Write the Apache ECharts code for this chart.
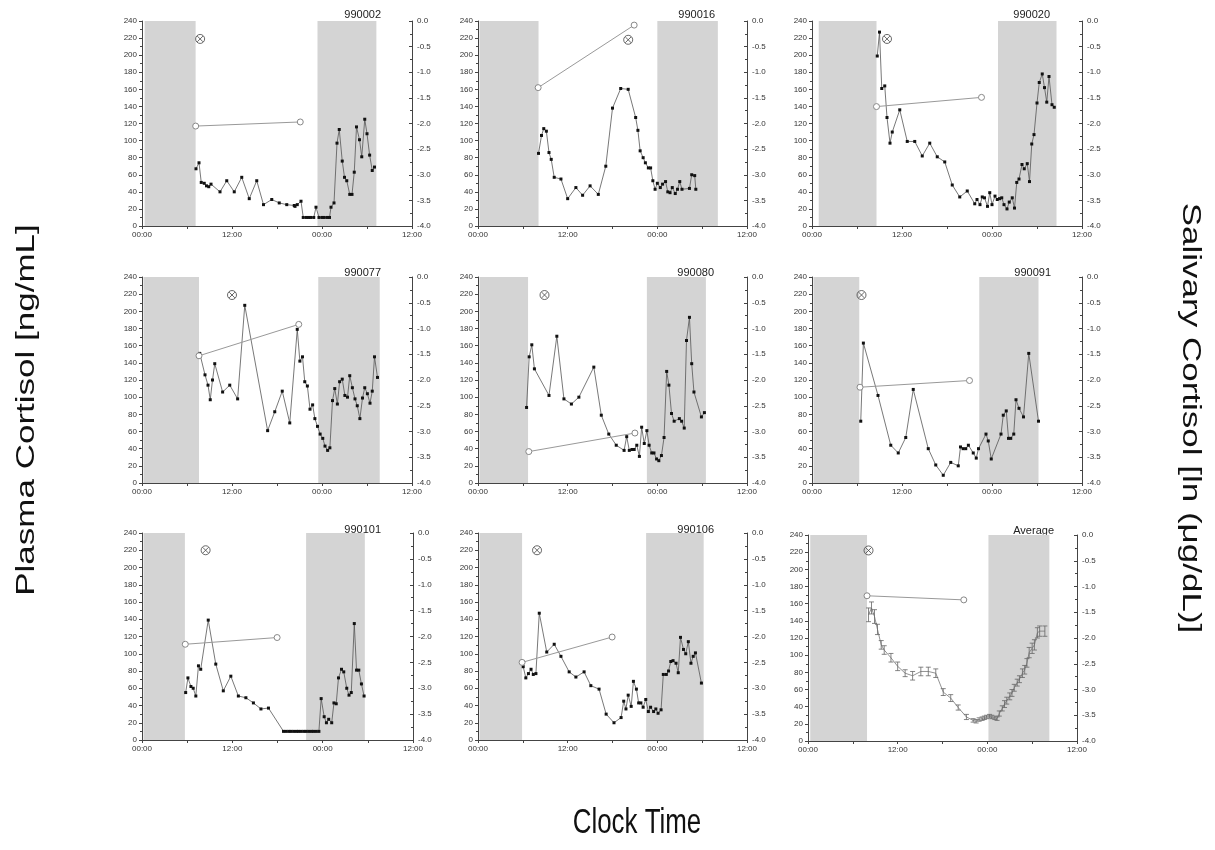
<!DOCTYPE html>
<html><head><meta charset="utf-8">
<script src="https://cdn.jsdelivr.net/npm/echarts@6/dist/echarts.min.js"></script>
<style>html,body{margin:0;padding:0;background:#fff}#c{width:1215px;height:850px}</style>
</head><body><div id="c"></div>
<script>
// ---------- DATA (time = hours since 00:00 of day 1) ----------
const panelIds = ['990002','990016','990020','990077','990080','990091','990101','990106','Average'];
const xTickLabels = ['00:00','12:00','00:00','12:00'];

// plasma cortisol [hour, ng/mL]
const plasma_990002 = [[7.2,67],[7.6,74],[7.9,51],[8.3,50],[8.6,47],[8.9,46],[9.2,49],[10.4,40],[11.3,53],[12.3,40],[13.3,57],[14.3,32],[15.3,53],[16.2,25],[17.3,31],[18.3,27],[19.3,25],[20.3,24],[20.4,23],[20.7,25],[21.2,29],[21.5,10],[21.9,10],[22.2,10],[22.5,10],[22.9,10],[23.2,22],[23.6,10],[24.0,10],[24.3,10],[24.7,10],[25.0,10],[25.2,22],[25.6,27],[26.0,97],[26.3,113],[26.7,76],[27.0,57],[27.3,53],[27.7,37],[28.0,37],[28.3,63],[28.6,116],[29.0,101],[29.3,81],[29.7,125],[30.0,108],[30.35,83],[30.7,65],[31.0,69]];
const plasma_990016 = [[8.1,85],[8.5,106],[8.8,114],[9.15,111],[9.5,86],[9.8,78],[10.2,57],[11.1,55],[12.0,32],[13.1,45],[14.0,36],[15.0,47],[16.1,37],[17.1,70],[18.0,138],[19.1,161],[20.1,160],[21.1,127],[21.4,112],[21.7,88],[22.1,80],[22.4,74],[22.8,68],[23.1,68],[23.4,53],[23.7,43],[24.0,50],[24.4,45],[24.7,49],[25.1,52],[25.4,40],[25.7,39],[26.0,45],[26.4,38],[26.7,43],[27.0,52],[27.3,43],[28.3,44],[28.6,60],[29.0,59],[29.15,43]];
const plasma_990020 = [[8.7,199],[9.0,227],[9.3,161],[9.7,164],[10.0,127],[10.4,97],[10.7,110],[11.7,136],[12.7,99],[13.7,99],[14.7,82],[15.7,97],[16.7,81],[17.7,75],[18.7,48],[19.7,34],[20.7,41],[21.7,26],[22.0,31],[22.4,25],[22.7,34],[23.0,33],[23.4,23],[23.7,39],[24.0,25],[24.4,35],[24.7,31],[25.0,32],[25.3,33],[25.6,25],[26.0,20],[26.3,28],[26.7,33],[27.0,21],[27.3,51],[27.6,55],[28.0,72],[28.3,67],[28.7,73],[29.0,52],[29.3,96],[29.6,107],[30.0,144],[30.3,168],[30.7,178],[31.0,162],[31.3,145],[31.6,175],[32.0,142],[32.3,139]];
const plasma_990077 = [[7.7,151],[8.4,126],[8.8,114],[9.1,97],[9.4,120],[9.7,139],[10.75,106],[11.7,114],[12.75,98],[13.7,207],[16.75,61],[17.7,83],[18.7,107],[19.7,70],[20.7,179],[21.05,142],[21.4,147],[21.7,118],[22.05,113],[22.4,86],[22.75,91],[23.05,75],[23.4,66],[23.75,57],[24.1,52],[24.4,43],[24.75,38],[25.05,41],[25.4,96],[25.7,110],[26.05,92],[26.35,118],[26.7,121],[27.05,102],[27.4,100],[27.7,125],[28.05,111],[28.4,98],[28.7,90],[29.05,75],[29.4,99],[29.7,111],[30.05,104],[30.4,93],[30.7,107],[31.0,147],[31.4,123]];
const plasma_990080 = [[6.5,88],[6.85,147],[7.2,161],[7.55,133],[9.5,102],[10.55,171],[11.5,98],[12.5,92],[13.5,100],[15.5,135],[16.5,79],[17.5,57],[18.5,44],[19.55,38],[19.9,54],[20.25,38],[20.6,39],[20.9,39],[21.25,44],[21.6,31],[21.9,65],[22.25,46],[22.6,61],[22.9,44],[23.25,35],[23.55,35],[23.9,28],[24.2,26],[24.55,32],[24.9,53],[25.25,130],[25.55,114],[25.9,81],[26.25,72],[26.95,75],[27.25,72],[27.6,64],[27.9,166],[28.3,193],[28.6,139],[28.9,106],[29.9,77],[30.3,82]];
const plasma_990091 = [[6.5,72],[6.85,163],[8.8,102],[10.5,44],[11.5,35],[12.5,53],[13.5,109],[15.5,40],[16.5,21],[17.5,9],[18.5,24],[19.5,20],[19.8,42],[20.15,40],[20.5,40],[20.85,44],[21.5,35],[21.9,29],[22.2,40],[23.2,57],[23.5,49],[23.9,28],[25.2,57],[25.5,79],[25.9,84],[26.2,52],[26.5,52],[26.9,57],[27.2,97],[27.6,87],[28.2,77],[28.9,151],[30.2,72]];
const plasma_990101 = [[5.8,55],[6.1,72],[6.5,62],[6.8,60],[7.15,51],[7.5,86],[7.8,82],[8.8,139],[9.8,88],[10.8,57],[11.8,74],[12.8,51],[13.8,49],[14.8,43],[15.8,36],[16.8,37],[18.8,10],[19.15,10],[19.5,10],[19.8,10],[20.15,10],[20.5,10],[20.8,10],[21.15,10],[21.5,10],[21.8,10],[22.15,10],[22.5,10],[22.8,10],[23.15,10],[23.5,10],[23.8,48],[24.2,27],[24.5,20],[24.8,24],[25.2,20],[25.5,43],[25.8,42],[26.1,72],[26.5,82],[26.8,79],[27.2,60],[27.5,52],[27.8,55],[28.2,135],[28.5,81],[28.8,81],[29.15,65],[29.5,51]];
const plasma_990106 = [[6.05,85],[6.4,72],[6.75,77],[7.1,82],[7.4,76],[7.75,77],[8.2,147],[9.2,102],[10.2,111],[11.1,97],[12.2,79],[13.1,73],[14.2,79],[15.1,63],[16.2,59],[17.15,30],[18.2,20],[19.15,26],[19.5,45],[19.8,36],[20.1,52],[20.5,39],[20.8,68],[21.2,59],[21.5,43],[21.8,43],[22.1,38],[22.45,47],[22.8,33],[23.1,38],[23.5,33],[23.8,36],[24.1,31],[24.5,35],[24.8,76],[25.2,76],[25.5,80],[25.8,91],[26.1,92],[26.5,89],[26.8,78],[27.1,119],[27.5,105],[27.8,100],[28.15,114],[28.5,89],[28.8,97],[29.1,101],[29.9,66]];
const plasma_Average = [[8.1,147],[8.5,155],[8.9,145],[9.3,130],[9.8,112],[10.2,106],[11.1,97],[12.0,87],[13.0,79],[14.0,76],[15.1,81],[16.1,81],[17.1,79],[18.1,57],[19.1,50],[20.1,39],[21.2,28],[22.1,24],[22.5,23],[22.9,25],[23.3,26],[23.6,27],[23.9,28],[24.3,29],[24.6,28],[25.0,27],[25.3,26],[25.6,32],[26.0,38],[26.3,43],[26.6,47],[27.0,52],[27.3,56],[27.6,62],[28.0,68],[28.3,72],[28.7,79],[29.0,83],[29.3,91],[29.6,103],[30.0,108],[30.3,112],[30.7,126],[31.0,128],[31.7,128]];
// standard error of the average curve (ng/mL), same order as plasma_Average
const err_Average = [8,7,8,6,5,5,5,5,4,5,5,5,5,4,4,3,3,2,2,2,2,2,2,2,2,2,2,3,3,4,4,4,4,4,4,4,5,5,5,6,6,6,6,6,6];

// salivary cortisol [hour, ln(µg/dL)]
const saliva_990002 = [[7.16,-2.05],[21.1,-1.97]];
const saliva_990016 = [[8.05,-1.30],[20.9,-0.08]];
const saliva_990020 = [[8.6,-1.67],[22.6,-1.49]];
const saliva_990077 = [[7.6,-1.53],[20.9,-0.92]];
const saliva_990080 = [[6.8,-3.39],[21.0,-3.03]];
const saliva_990091 = [[6.4,-2.14],[21.0,-2.01]];
const saliva_990101 = [[5.75,-2.15],[17.95,-2.02]];
const saliva_990106 = [[5.9,-2.5],[17.95,-2.01]];
const saliva_Average = [[7.9,-1.18],[20.85,-1.26]];

// ⊗ event marker [hour, ng/mL]
const event_990002 = [[7.75,219]];
const event_990016 = [[20.1,218]];
const event_990020 = [[10.0,219]];
const event_990077 = [[12.0,219]];
const event_990080 = [[8.9,219]];
const event_990091 = [[6.6,219]];
const event_990101 = [[8.45,220]];
const event_990106 = [[7.9,220]];
const event_Average = [[8.1,222]];

// dark (lights-off) periods [start hour, end hour]
const night_990002 = [[0.35,7.15],[23.4,31.25]];
const night_990016 = [[0.2,8.1],[24.0,32.1]];
const night_990020 = [[0.9,8.6],[24.8,32.6]];
const night_990077 = [[0.2,7.6],[23.5,31.7]];
const night_990080 = [[0.2,6.7],[22.6,30.5]];
const night_990091 = [[0.2,6.3],[22.3,30.2]];
const night_990101 = [[0.2,5.7],[21.8,29.6]];
const night_990106 = [[0.2,5.9],[22.5,30.2]];
const night_Average = [[0.3,7.9],[24.15,32.3]];

const plasmaSets = [plasma_990002,plasma_990016,plasma_990020,plasma_990077,plasma_990080,plasma_990091,plasma_990101,plasma_990106,plasma_Average];
const salivaSets = [saliva_990002,saliva_990016,saliva_990020,saliva_990077,saliva_990080,saliva_990091,saliva_990101,saliva_990106,saliva_Average];
const eventSets = [event_990002,event_990016,event_990020,event_990077,event_990080,event_990091,event_990101,event_990106,event_Average];
const nightSets = [night_990002,night_990016,night_990020,night_990077,night_990080,night_990091,night_990101,night_990106,night_Average];

// ---------- LAYOUT ----------
const rects = [
  [142,21,270,205],[478,21,269,205],[812,21,270,205],
  [142,277,270,206],[478,277,269,206],[812,277,270,206],
  [142,533,271,207],[478,533,269,207],[808,535,269,206]
];
const titlePos = [[381,15],[715,15],[1050,15],[381,273],[714,273],[1051,273],[381,530],[714,530],[1054,531]];

const FONT = '"Liberation Sans", Arial, sans-serif';
const AX = '#444';
const grids=[], xAxes=[], yAxes=[], series=[], graphics=[];

panelIds.forEach((id,i)=>{
  const r = rects[i];
  grids.push({left:r[0], top:r[1], width:r[2], height:r[3]});
  xAxes.push({gridIndex:i, type:'value', min:0, max:36, interval:12,
    axisLine:{show:true, lineStyle:{color:AX,width:1}},
    axisTick:{show:true, length:3, lineStyle:{color:AX}},
    minorTick:{show:true, splitNumber:2, length:3, lineStyle:{color:AX}},
    splitLine:{show:false},
    axisLabel:{fontSize:8, fontFamily:FONT, color:'#333', margin:5, formatter:v=>xTickLabels[Math.round(v/12)]}
  });
  yAxes.push({gridIndex:i, type:'value', position:'left', min:0, max:240, interval:20,
    axisLine:{show:true, lineStyle:{color:AX,width:1}},
    axisTick:{show:true, length:3, lineStyle:{color:AX}},
    minorTick:{show:true, splitNumber:2, length:2, lineStyle:{color:AX}},
    splitLine:{show:false},
    axisLabel:{fontSize:8, fontFamily:FONT, color:'#333', margin:5}
  });
  yAxes.push({gridIndex:i, type:'value', position:'right', min:-4, max:0, interval:0.5,
    axisLine:{show:true, lineStyle:{color:AX,width:1}},
    axisTick:{show:true, inside:true, length:3, lineStyle:{color:AX}},
    minorTick:{show:true, splitNumber:2, length:2, lineStyle:{color:AX}},
    splitLine:{show:false},
    axisLabel:{fontSize:8, fontFamily:FONT, color:'#333', margin:5, formatter:v=>v.toFixed(1)}
  });

  // night bands
  series.push({type:'custom', xAxisIndex:i, yAxisIndex:2*i, data:nightSets[i], z:1, silent:true,
    encode:{x:[0,1]},
    renderItem:(params,api)=>{
      const a = api.coord([api.value(0),240]);
      const b = api.coord([api.value(1),0]);
      return {type:'rect', shape:{x:a[0], y:a[1], width:b[0]-a[0], height:b[1]-a[1]}, style:{fill:'#d4d4d4'}};
    }
  });

  const isAvg = id==='Average';
  // plasma
  series.push({type:'line', xAxisIndex:i, yAxisIndex:2*i, data:plasmaSets[i], z:4,
    symbol: isAvg ? 'none' : 'rect', symbolSize:3, showAllSymbol:true,
    lineStyle:{color: isAvg ? '#777' : '#555', width:0.8},
    itemStyle:{color:'#111'}
  });
  if (isAvg) {
    series.push({type:'custom', xAxisIndex:i, yAxisIndex:2*i, z:5, silent:true,
      data: plasmaSets[i].map((p,k)=>[p[0],p[1],err_Average[k]]),
      encode:{x:0, y:1},
      renderItem:(params,api)=>{
        const x=api.value(0), m=api.value(1), e=api.value(2);
        const p=api.coord([x,m+e]), q=api.coord([x,m-e]); const w=2.5;
        const st={stroke:'#666', lineWidth:0.8};
        return {type:'group', children:[
          {type:'line', shape:{x1:p[0],y1:p[1],x2:q[0],y2:q[1]}, style:st},
          {type:'line', shape:{x1:p[0]-w,y1:p[1],x2:p[0]+w,y2:p[1]}, style:st},
          {type:'line', shape:{x1:q[0]-w,y1:q[1],x2:q[0]+w,y2:q[1]}, style:st}
        ]};
      }
    });
  }
  // saliva
  series.push({type:'line', xAxisIndex:i, yAxisIndex:2*i+1, data:salivaSets[i], z:6,
    symbol:'circle', symbolSize:6, showAllSymbol:true,
    lineStyle:{color:'#999', width:1},
    itemStyle:{color:'#fff', borderColor:'#888', borderWidth:1}
  });
  // event marker
  series.push({type:'scatter', xAxisIndex:i, yAxisIndex:2*i, data:eventSets[i], z:7,
    symbol:'path://M10,5A5,5,0,1,1,0,5A5,5,0,1,1,10,5ZM1.8,1.8L8.2,8.2M8.2,1.8L1.8,8.2',
    symbolSize:9,
    itemStyle:{color:'transparent', borderColor:'#444', borderWidth:1}
  });

  graphics.push({type:'text', x:titlePos[i][0], y:titlePos[i][1],
    style:{text:id, fontSize:11, fontFamily:FONT, fill:'#222', align:'right', verticalAlign:'middle', textAlign:'right', textVerticalAlign:'middle'}});
});

graphics.push({type:'text', x:27, y:410, rotation:Math.PI/2, scaleY:0.74,
  style:{text:'Plasma Cortisol [ng/mL]', fontSize:35, fontFamily:FONT, fill:'#111', align:'center', verticalAlign:'middle', textAlign:'center', textVerticalAlign:'middle'}});
graphics.push({type:'text', x:1190, y:418, rotation:-Math.PI/2, scaleY:0.74,
  style:{text:'Salivary Cortisol [ln (μg/dL)]', fontSize:35, fontFamily:FONT, fill:'#111', align:'center', verticalAlign:'middle', textAlign:'center', textVerticalAlign:'middle'}});
graphics.push({type:'text', x:637, y:823, scaleX:0.74,
  style:{text:'Clock Time', fontSize:35, fontFamily:FONT, fill:'#111', align:'center', verticalAlign:'middle', textAlign:'center', textVerticalAlign:'middle'}});

const chart = echarts.init(document.getElementById('c'), null, {renderer:'canvas'});
chart.setOption({
  animation:false,
  backgroundColor:'#fff',
  grid:grids, xAxis:xAxes, yAxis:yAxes, series:series, graphic:graphics
});
</script></body></html>
